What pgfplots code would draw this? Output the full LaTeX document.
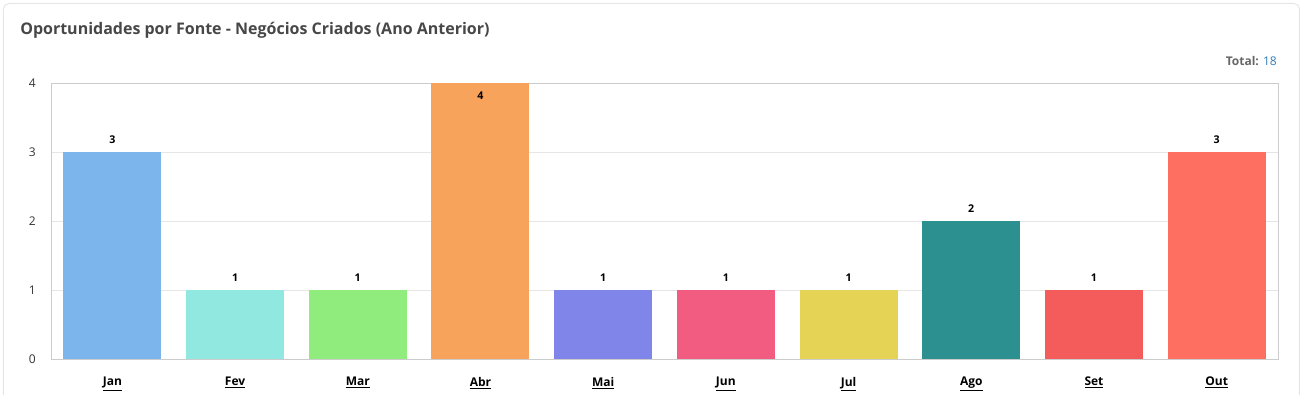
\documentclass[border=0pt]{standalone}
\usepackage{pgfplots}
\pgfplotsset{compat=1.18}
\usepackage{fontspec}
\setmainfont{Open Sans}
\definecolor{cJan}{HTML}{7CB5EC}
\definecolor{cFev}{HTML}{91E8E1}
\definecolor{cMar}{HTML}{90ED7D}
\definecolor{cAbr}{HTML}{F7A35C}
\definecolor{cMai}{HTML}{8085E9}
\definecolor{cJun}{HTML}{F15C80}
\definecolor{cJul}{HTML}{E4D354}
\definecolor{cAgo}{HTML}{2B908F}
\definecolor{cSet}{HTML}{F45B5B}
\definecolor{cOut}{HTML}{FF6F61}
\definecolor{txt}{HTML}{333333}
\definecolor{gridc}{HTML}{E6E6E6}
\definecolor{axc}{HTML}{CCCCCC}
\definecolor{totc}{HTML}{666666}
\definecolor{totb}{HTML}{337AB7}
\newcommand{\ul}[1]{\underline{#1}}
\begin{document}
\begin{tikzpicture}
\useasboundingbox (0pt,0pt) rectangle (984pt,295.5pt);
\draw[draw=gridc, line width=0.75pt, rounded corners=4pt] (2.6pt,-20pt) -- (2.6pt,292.9pt) -- (974.6pt,292.9pt) -- (974.6pt,-20pt);
\node[anchor=west, font=\fontsize{12}{14}\selectfont\bfseries, text=txt!90, inner sep=0pt] at (15pt,273pt) {Oportunidades por Fonte - Negócios Criados (Ano Anterior)};
\node[anchor=east, font=\fontsize{9}{11}\selectfont, inner sep=0pt] at (957.75pt,249.75pt) {\textcolor{totc}{\bfseries Total:} \textcolor{totb}{18}};
\begin{axis}[
  at={(38.25pt,26.25pt)}, anchor=south west,
  scale only axis, width=920.25pt, height=207pt,
  xmin=-0.5, xmax=9.5, ymin=0, ymax=4,
  xtick={0,...,9},
  xticklabels={\ul{Jan},\ul{Fev},\ul{Mar},\ul{Abr},\ul{Mai},\ul{Jun},\ul{Jul},\ul{Ago},\ul{Set},\ul{Out}},
  xticklabel style={font=\fontsize{9}{11}\selectfont\bfseries, text=black, yshift=-10pt},
  ytick={0,1,2,3,4},
  yticklabel style={font=\fontsize{9}{11}\selectfont, text=txt, xshift=-8pt},
  /pgf/number format/assume math mode=true,
  major tick length=0pt,
  ymajorgrids, grid style={gridc, line width=0.75pt},
  axis line style={axc, line width=0.75pt},
  ybar, bar width=73.5pt, bar shift=0pt,
  nodes near coords,
  nodes near coords style={font=\fontsize{8}{10}\selectfont\bfseries, text=black, yshift=3pt},
  every axis plot/.append style={draw=none},
  clip=false,
]
\addplot[fill=cJan] coordinates {(0,3)};
\addplot[fill=cFev] coordinates {(1,1)};
\addplot[fill=cMar] coordinates {(2,1)};
\addplot[fill=cAbr, nodes near coords style={anchor=north, yshift=-6pt}] coordinates {(3,4)};
\addplot[fill=cMai] coordinates {(4,1)};
\addplot[fill=cJun] coordinates {(5,1)};
\addplot[fill=cJul] coordinates {(6,1)};
\addplot[fill=cAgo] coordinates {(7,2)};
\addplot[fill=cSet] coordinates {(8,1)};
\addplot[fill=cOut] coordinates {(9,3)};
\end{axis}
\end{tikzpicture}
\end{document}
